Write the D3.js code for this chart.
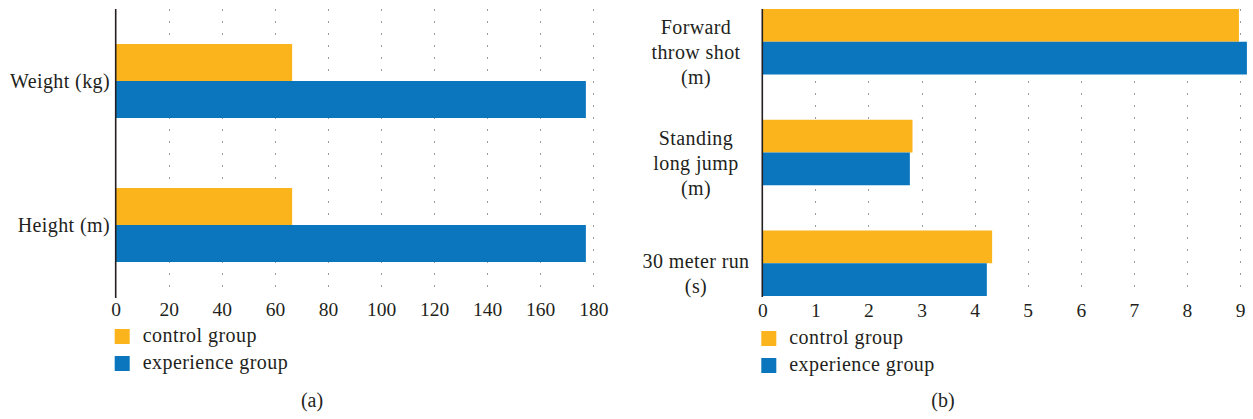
<!DOCTYPE html>
<html>
<head>
<meta charset="utf-8">
<script src="https://cdn.jsdelivr.net/npm/d3@7"></script>
<style>
  html, body { margin: 0; padding: 0; background: #ffffff; }
  svg { display: block; }
</style>
</head>
<body>
<svg id="chart" width="1253" height="419"></svg>
<script>
// ---- Data ----------------------------------------------------------
const seriesNames = ["control group", "experience group"];
const seriesColors = ["#fbb41c", "#0b76be"];

// Panel (a): body measurements
const bodyCategories = ["Weight (kg)", "Height (m)"];
const bodyControl = [66.5, 66.5];
const bodyExperience = [177.2, 177.2];
const bodyTicks = [0, 20, 40, 60, 80, 100, 120, 140, 160, 180];

// Panel (b): fitness tests
const fitnessCategories = [
  ["Forward", "throw shot", "(m)"],
  ["Standing", "long jump", "(m)"],
  ["30 meter run", "(s)"]
];
const fitnessControl = [8.98, 2.83, 4.33];
const fitnessExperience = [9.13, 2.78, 4.23];
const fitnessTicks = [0, 1, 2, 3, 4, 5, 6, 7, 8, 9];

// ---- Drawing -------------------------------------------------------
const FONT = "Liberation Serif";
const INK = "#231f20";
const svg = d3.select("#chart");

function drawPanel(opts) {
  const g = svg.append("g");
  const x = d3.scaleLinear().domain(opts.domain).range(opts.xRange);
  const y = d3.scaleBand()
    .domain(d3.range(opts.categories.length))
    .range(opts.yRange)
    .paddingInner(opts.padInner)
    .paddingOuter(opts.padOuter);
  const sub = d3.scaleBand().domain([0, 1]).range([0, y.bandwidth()]);

  // dotted vertical grid lines
  g.append("g").selectAll("line")
    .data(opts.ticks.filter(t => t !== 0))
    .join("line")
    .attr("x1", d => Math.round(x(d)) + 0.5)
    .attr("x2", d => Math.round(x(d)) + 0.5)
    .attr("y1", opts.yRange[0] + 0.5)
    .attr("y2", opts.yRange[1])
    .attr("stroke", "#3a3a3a")
    .attr("stroke-width", 1)
    .attr("stroke-dasharray", "1 11");

  // bars
  const series = [opts.control, opts.experience];
  series.forEach((vals, s) => {
    g.append("g").selectAll("rect")
      .data(vals)
      .join("rect")
      .attr("x", x(0))
      .attr("y", (d, i) => y(i) + sub(s))
      .attr("width", d => x(d) - x(0))
      .attr("height", sub.bandwidth())
      .attr("fill", seriesColors[s]);
  });

  // category axis line (no ticks)
  g.append("line")
    .attr("x1", x(0)).attr("x2", x(0))
    .attr("y1", opts.yRange[0]).attr("y2", opts.yRange[1] + 1)
    .attr("stroke", INK)
    .attr("stroke-width", 1.6);

  // value tick labels
  const xAxis = d3.axisBottom(x).tickValues(opts.ticks).tickSize(0).tickPadding(0);
  const ax = g.append("g")
    .attr("transform", `translate(0,${opts.tickBaseline})`)
    .call(xAxis)
    .attr("font-family", FONT)
    .attr("font-size", 19.5);
  ax.select(".domain").remove();
  ax.selectAll("text")
    .attr("dy", 0)
    .attr("y", 0)
    .attr("font-family", FONT)
    .style("font-family", FONT)
    .style("font-size", "19.5px");

  // category labels
  opts.categories.forEach((lab, i) => {
    const lines = Array.isArray(lab) ? lab : [lab];
    const lh = 25;
    const cy = y(i) + y.bandwidth() / 2 + opts.labelShift;
    const t = g.append("text")
      .attr("text-anchor", opts.labelAnchor)
      .attr("font-family", FONT)
      .style("font-family", FONT)
      .style("font-size", "20px")
      .style("letter-spacing", "0.4px");
    lines.forEach((ln, k) => {
      t.append("tspan")
        .attr("x", opts.labelX)
        .attr("y", cy + 7 + (k - (lines.length - 1) / 2) * lh)
        .text(ln);
    });
  });

  // legend
  seriesNames.forEach((name, s) => {
    const ly = opts.legendY + s * 27;
    g.append("rect")
      .attr("x", x(0) - 1)
      .attr("y", ly)
      .attr("width", 15)
      .attr("height", 15)
      .attr("fill", seriesColors[s]);
    g.append("text")
      .attr("x", x(0) + 27)
      .attr("y", ly + 13)
      .attr("font-family", FONT)
      .style("font-family", FONT)
      .style("font-size", "20px")
      .style("letter-spacing", "0.45px")
      .text(name);
  });

  // panel caption
  g.append("text")
    .attr("x", opts.captionX)
    .attr("y", 407)
    .attr("text-anchor", "middle")
    .attr("font-family", FONT)
    .style("font-family", FONT)
    .style("font-size", "20px")
    .text(opts.caption);
}

drawPanel({
  categories: bodyCategories,
  control: bodyControl,
  experience: bodyExperience,
  ticks: bodyTicks,
  domain: [0, 180],
  xRange: [115.7, 593.3],
  yRange: [9, 297],
  padInner: 0.486,
  padOuter: 0.243,
  tickBaseline: 316,
  labelAnchor: "end",
  labelX: 110,
  labelShift: 0,
  legendY: 329,
  caption: "(a)",
  captionX: 312
});

drawPanel({
  categories: fitnessCategories,
  control: fitnessControl,
  experience: fitnessExperience,
  ticks: fitnessTicks,
  domain: [0, 9],
  xRange: [762.3, 1240],
  yRange: [9, 296],
  padInner: 0.4086,
  padOuter: 0,
  tickBaseline: 316.5,
  labelAnchor: "middle",
  labelX: 696,
  labelShift: 10,
  legendY: 331,
  caption: "(b)",
  captionX: 943
});

svg.selectAll("text").style("fill", INK);
</script>
</body>
</html>
